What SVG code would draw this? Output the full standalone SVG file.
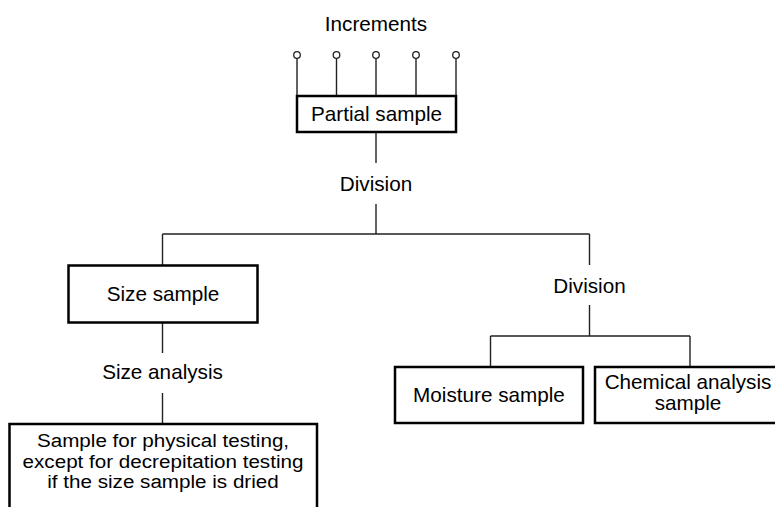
<svg xmlns="http://www.w3.org/2000/svg" width="775" height="507" viewBox="0 0 775 507">
<style>
text{font-family:"Liberation Sans",Arial,sans-serif;font-size:20.7px;fill:#000;text-anchor:middle}
.tight{font-size:18.6px}
.box{fill:#fff;stroke:#000;stroke-width:2.5}
.ln{fill:none;stroke:#222;stroke-width:1.4}
.inc{fill:#fff;stroke:#222;stroke-width:1.3}
</style>
<rect width="775" height="507" fill="#fff"/>
<g id="connectors">
<path class="ln" d="M297 58.5V96M336.5 58.5V96M376 58.5V96M416 58.5V96M456 58.5V96"/>
<path class="ln" d="M376 132V163M376 204V234M162.5 234H589.5M162.5 234V265M589.5 234V265"/>
<path class="ln" d="M589.5 305V336M490.5 336H690M490.5 336V367M690 336V367"/>
<path class="ln" d="M162.5 322V353M162.5 393V424"/>
<circle class="inc" cx="297" cy="55" r="3.3"/>
<circle class="inc" cx="336.5" cy="55" r="3.3"/>
<circle class="inc" cx="376" cy="55" r="3.3"/>
<circle class="inc" cx="416" cy="55" r="3.3"/>
<circle class="inc" cx="456" cy="55" r="3.3"/>
<text x="376" y="31">Increments</text>
<text x="376" y="191">Division</text>
<text x="589.5" y="292.5">Division</text>
<text x="162.5" y="378.5">Size analysis</text>
</g>
<g id="partial-sample">
<rect class="box" x="297" y="96" width="159" height="36"/>
<text x="376.5" y="121">Partial sample</text>
</g>
<g id="size-sample">
<rect class="box" x="68.5" y="265.5" width="189" height="57"/>
<text x="163" y="301">Size sample</text>
</g>
<g id="moisture-sample">
<rect class="box" x="395" y="367" width="188" height="56"/>
<text x="489" y="402">Moisture sample</text>
</g>
<g id="chemical-sample">
<rect class="box" x="595" y="367" width="190" height="56"/>
<text x="688" y="388.5">Chemical analysis</text>
<text x="688" y="410">sample</text>
</g>
<g id="physical-sample">
<rect class="box" x="9.5" y="424" width="307.5" height="95"/>
<g transform="translate(163 0) scale(1.11 1)">
<text class="tight" x="0" y="447.5">Sample for physical testing,</text>
<text class="tight" x="0" y="468">except for decrepitation testing</text>
<text class="tight" x="0" y="488.5">if the size sample is dried</text>
</g>
</g>
</svg>
